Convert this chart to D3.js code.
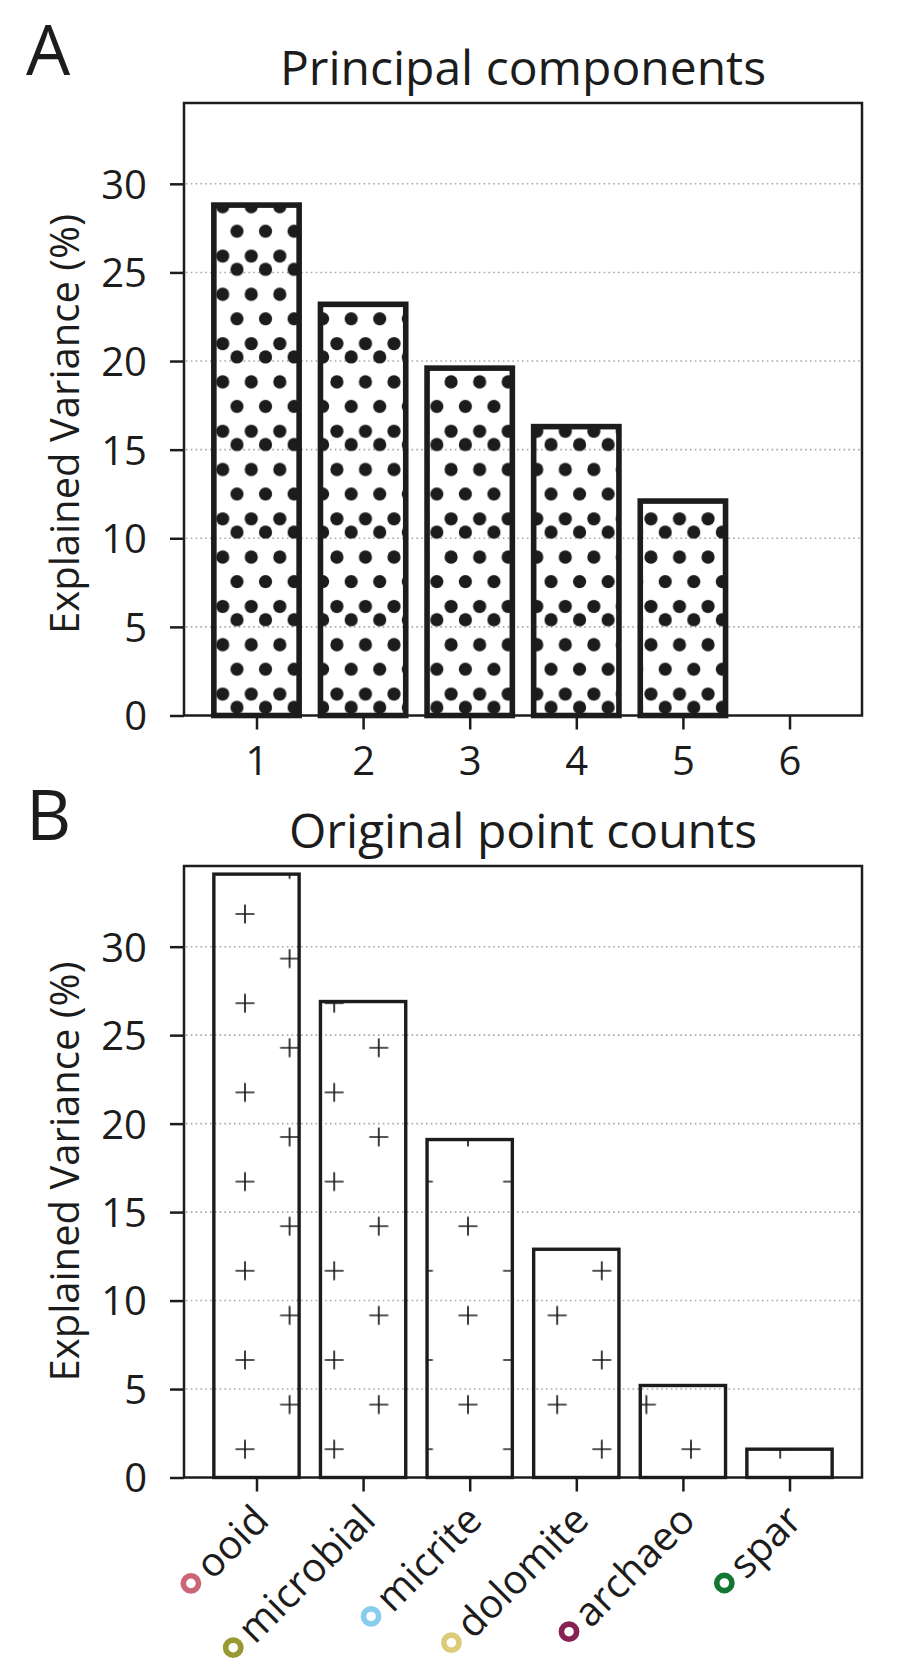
<!DOCTYPE html>
<html><head><meta charset="utf-8">
<script src="https://cdn.jsdelivr.net/npm/d3@7"></script>
<style>html,body{margin:0;padding:0;background:#fff;} svg{display:block;}</style>
</head><body><div id="chart"></div>
<script>
// ---------------- data ----------------
const pcCategories = ["1", "2", "3", "4", "5", "6"];
const pcValues = [28.8, 23.2, 19.6, 16.3, 12.1, 0];
const pointCategories = ["ooid", "microbial", "micrite", "dolomite", "archaeo", "spar"];
const pointValues = [34.1, 26.9, 19.1, 12.9, 5.2, 1.6];
const pointColors = ["#CC6677", "#999933", "#88CCEE", "#DDCC77", "#882255", "#117733"];
const yTicks = [0, 5, 10, 15, 20, 25, 30];
const yGrid = [5, 10, 15, 20, 25, 30];
const yMax = 34.56;
const panelTitles = ["Principal components", "Original point counts"];
const panelLetters = ["A", "B"];
const yLabelText = "Explained Variance (%)";

// ---------------- layout ----------------
const W = 922, H = 1667;
const INK = "#1c1c1c";
const FONT = "'Open Sans', 'Noto Sans', sans-serif";
const svg = d3.select("#chart").append("svg").attr("width", W).attr("height", H)
  .style("background", "#fff");
svg.append("rect").attr("width", W).attr("height", H).attr("fill", "#fff");

const left = 184, right = 862;
const x = d3.scaleLinear().domain([0.32, 6.68]).range([left, right]);
const barW = x(1.4) - x(0.6);

const panels = [
  {top: 103, bottom: 715.5, titleY: 85, letterY: 75, labelY: 424, cats: pcCategories, vals: pcValues, fill: "url(#dots)", lw: 5.6},
  {top: 866, bottom: 1477.5, titleY: 848, letterY: 840, labelY: 1171.5, cats: pointCategories, vals: pointValues, fill: "url(#plus)", lw: 3.4}
];

// ---------------- hatch patterns ----------------
const defs = svg.append("defs");
{
  const pw = 28.55, ph = 87.6, r = 6.6;
  const p = defs.append("pattern").attr("id", "dots").attr("patternUnits", "userSpaceOnUse")
    .attr("x", 222.7).attr("y", 206.7).attr("width", pw).attr("height", ph);
  const base = [[0, 0], [pw / 2, 24.5], [0, 49.3], [pw / 2, 62.7]];
  base.forEach(([cx, cy]) => {
    for (const dx of [-pw, 0, pw]) for (const dy of [-ph, 0, ph]) {
      p.append("circle").attr("cx", cx + dx).attr("cy", cy + dy).attr("r", r).attr("fill", INK);
    }
  });
}
{
  const s = 89.2, a = 9.5;
  const p = defs.append("pattern").attr("id", "plus").attr("patternUnits", "userSpaceOnUse")
    .attr("x", 245).attr("y", 914).attr("width", s).attr("height", s);
  const base = [[0, 0], [s / 2, s / 2]];
  base.forEach(([cx, cy]) => {
    for (const dx of [-s, 0, s]) for (const dy of [-s, 0, s]) {
      p.append("path").attr("d", `M${cx + dx - a},${cy + dy}H${cx + dx + a}M${cx + dx},${cy + dy - a}V${cy + dy + a}`)
        .attr("stroke", INK).attr("stroke-width", 1.7).attr("fill", "none");
    }
  });
}

// ---------------- panels ----------------
panels.forEach((P, pi) => {
  const y = d3.scaleLinear().domain([0, yMax]).range([P.bottom, P.top]);
  const g = svg.append("g");

  // grid
  g.selectAll(".grid").data(yGrid).join("line")
    .attr("x1", left + 2).attr("x2", right - 2)
    .attr("y1", d => y(d)).attr("y2", d => y(d))
    .attr("stroke", "#a8a8a8").attr("stroke-width", 1.6).attr("stroke-dasharray", "1.6 3.2");

  // bars
  g.selectAll(".bar").data(P.vals).join("rect")
    .attr("x", (d, i) => x(i + 1) - barW / 2)
    .attr("width", barW)
    .attr("y", d => y(d))
    .attr("height", d => y(0) - y(d))
    .attr("fill", P.fill)
    .attr("stroke", INK)
    .attr("stroke-width", P.lw)
    .attr("display", d => d > 0 ? null : "none");

  // frame
  g.append("rect").attr("x", left).attr("y", P.top).attr("width", right - left).attr("height", P.bottom - P.top)
    .attr("fill", "none").attr("stroke", INK).attr("stroke-width", 2.5);

  // y axis
  const yAxis = d3.axisLeft(y).tickValues(yTicks).tickSize(14).tickPadding(23).tickFormat(d3.format("d"));
  const ya = g.append("g").attr("transform", `translate(${left},0)`).call(yAxis);
  ya.select(".domain").remove();
  ya.selectAll(".tick line").attr("stroke", INK).attr("stroke-width", 2.5);
  ya.selectAll(".tick text").attr("fill", INK).style("font-family", FONT).style("font-size", "40px")
    .attr("dy", "0.36em");

  // x axis
  const xAxis = d3.axisBottom(x).tickValues(P.cats.map((c, i) => i + 1)).tickSize(14).tickPadding(18)
    .tickFormat((d, i) => P.cats[i]);
  const xa = g.append("g").attr("transform", `translate(0,${P.bottom})`).call(xAxis);
  xa.select(".domain").remove();
  xa.selectAll(".tick line").attr("stroke", INK).attr("stroke-width", 2.5);
  xa.selectAll(".tick text").attr("fill", INK).style("font-family", FONT).style("font-size", "40px");

  if (pi === 0) {
    xa.selectAll(".tick text").attr("y", 0).attr("dy", null).attr("transform", "translate(0,59)");
  } else {
    xa.selectAll(".tick text").remove();
    xa.selectAll(".tick").each(function (d, i) {
      const t = d3.select(this);
      const lg = t.append("g").attr("transform", "translate(3,34) rotate(-45)");
      const txt = lg.append("text").text(P.cats[i])
        .attr("text-anchor", "end").attr("dominant-baseline", "central")
        .attr("fill", INK).style("font-family", FONT).style("font-size", "40px");
      const len = txt.node().getComputedTextLength();
      lg.append("circle").attr("cx", -(len + 17)).attr("cy", 2).attr("r", 7.6)
        .attr("fill", "#fff").attr("stroke", pointColors[i]).attr("stroke-width", 5.6);
    });
  }

  // title
  svg.append("text").attr("x", (left + right) / 2).attr("y", P.titleY).attr("text-anchor", "middle")
    .attr("fill", INK).style("font-family", FONT).style("font-size", "48px").text(panelTitles[pi]);

  // panel letter
  svg.append("text").attr("x", 26).attr("y", P.letterY).attr("fill", INK)
    .style("font-family", FONT).style("font-size", "70px").text(panelLetters[pi]);

  // y label
  svg.append("text").attr("transform", `translate(79,${P.labelY}) rotate(-90)`)
    .attr("text-anchor", "middle").attr("fill", INK)
    .style("font-family", FONT).style("font-size", "40px").text(yLabelText);
});
</script>
</body></html>
